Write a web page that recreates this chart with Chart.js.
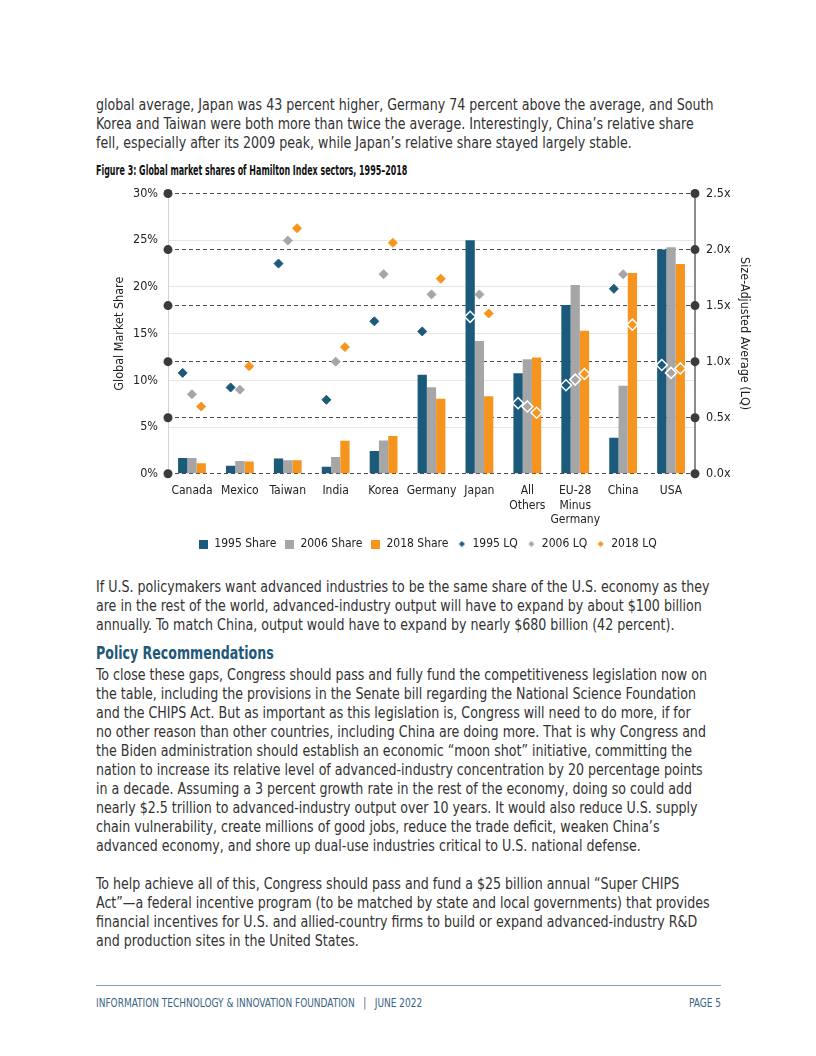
<!DOCTYPE html>
<html>
<head>
<meta charset="utf-8">
<script src="https://cdn.jsdelivr.net/npm/chart.js@4.4.0/dist/chart.umd.min.js"></script>
<style>
  body { margin: 0; background: #fff; }
  #page { position: relative; width: 816px; height: 1056px; overflow: hidden;
          font-family: 'Liberation Sans Narrow', 'DejaVu Sans Condensed', 'Liberation Sans', sans-serif; color: #333; }
  .p { position: absolute; left: 96px; font-size: 15.5px; line-height: 19px; white-space: nowrap;
       transform: scaleX(0.906); transform-origin: 0 0; }
  .figtitle { position: absolute; left: 96px; top: 162px; font-size: 14px; font-weight: bold; color: #111; white-space: nowrap;
              transform: scaleX(0.632); transform-origin: 0 0; }
  .heading { position: absolute; left: 96px; top: 643px; font-size: 17.5px; font-weight: bold; color: #22587a; white-space: nowrap;
             transform: scaleX(0.8); transform-origin: 0 0; }
  .rule { position: absolute; left: 96px; top: 985px; width: 625px; height: 1px; background: #8aa2b3; }
  .footer { position: absolute; top: 995px; font-size: 12.5px; color: #3a6483; white-space: nowrap; }
  .footer.left { left: 96px; transform: scaleX(0.8); transform-origin: 0 0; }
  .footer.right { right: 95px; transform: scaleX(0.8); transform-origin: 100% 0; }
  #chartBox { position: absolute; left: 96px; top: 175px; }
</style>
</head>
<body>
<div id="page">
  <div class="p" style="top:96px">global average, Japan was 43 percent higher, Germany 74 percent above the average, and South<br>Korea and Taiwan were both more than twice the average. Interestingly, China’s relative share<br>fell, especially after its 2009 peak, while Japan’s relative share stayed largely stable.</div>
  <div class="figtitle">Figure 3: Global market shares of Hamilton Index sectors, 1995–2018</div>
  <div id="chartBox"><canvas id="chart" width="664" height="385"></canvas></div>
  <div class="p" style="top:578px">If U.S. policymakers want advanced industries to be the same share of the U.S. economy as they<br>are in the rest of the world, advanced-industry output will have to expand by about $100 billion<br>annually. To match China, output would have to expand by nearly $680 billion (42 percent).</div>
  <div class="heading">Policy Recommendations</div>
  <div class="p" style="top:666px">To close these gaps, Congress should pass and fully fund the competitiveness legislation now on<br>the table, including the provisions in the Senate bill regarding the National Science Foundation<br>and the CHIPS Act. But as important as this legislation is, Congress will need to do more, if for<br>no other reason than other countries, including China are doing more. That is why Congress and<br>the Biden administration should establish an economic “moon shot” initiative, committing the<br>nation to increase its relative level of advanced-industry concentration by 20 percentage points<br>in a decade. Assuming a 3 percent growth rate in the rest of the economy, doing so could add<br>nearly $2.5 trillion to advanced-industry output over 10 years. It would also reduce U.S. supply<br>chain vulnerability, create millions of good jobs, reduce the trade deficit, weaken China’s<br>advanced economy, and shore up dual-use industries critical to U.S. national defense.</div>
  <div class="p" style="top:875px">To help achieve all of this, Congress should pass and fund a $25 billion annual “Super CHIPS<br>Act”—a federal incentive program (to be matched by state and local governments) that provides<br>financial incentives for U.S. and allied-country firms to build or expand advanced-industry R&amp;D<br>and production sites in the United States.</div>
  <div class="rule"></div>
  <div class="footer left">INFORMATION TECHNOLOGY &amp; INNOVATION FOUNDATION &nbsp;&nbsp;|&nbsp;&nbsp; JUNE 2022</div>
  <div class="footer right">PAGE 5</div>
</div>

<script>
// categories and values
const categories = ['Canada', 'Mexico', 'Taiwan', 'India', 'Korea', 'Germany', 'Japan',
                    ['All', 'Others'], ['EU-28', 'Minus', 'Germany'], 'China', 'USA'];
const share1995 = [1.70, 0.86, 1.64, 0.75, 2.43, 10.6, 25.0, 10.75, 18.07, 3.86, 24.0];
const share2006 = [1.70, 1.36, 1.46, 1.79, 3.57, 9.25, 14.2, 12.25, 20.2, 9.43, 24.25];
const share2018 = [1.14, 1.32, 1.46, 3.54, 4.04, 8.03, 8.3, 12.46, 15.3, 21.5, 22.46];
const lq1995 = [0.90, 0.77, 1.875, 0.66, 1.36, 1.27, 1.40, 0.63, 0.79, 1.65, 0.97];
const lq2006 = [0.71, 0.75, 2.08, 1.00, 1.78, 1.60, 1.60, 0.60, 0.84, 1.78, 0.90];
const lq2018 = [0.60, 0.96, 2.19, 1.13, 2.06, 1.74, 1.43, 0.545, 0.89, 1.33, 0.94];
const shareTicks = [0, 5, 10, 15, 20, 25, 30];
const lqTicks = [0, 0.5, 1.0, 1.5, 2.0, 2.5];
const years = ['1995', '2006', '2018'];

const colors = ['#1c5a7b', '#a6a6a6', '#f7941d'];
const shareSets = [share1995, share2006, share2018];
const lqSets = [lq1995, lq2006, lq2018];
const fontStack = "'Liberation Sans Narrow', 'DejaVu Sans Condensed', 'Liberation Sans', sans-serif";

Chart.defaults.font.family = fontStack;
Chart.defaults.color = '#222';

// LQ marker drawn hollow when it falls inside its own bar
const scaleRatio = shareTicks[shareTicks.length - 1] / lqTicks[lqTicks.length - 1];
function insideBar(ctx) {
    const k = ctx.datasetIndex - 3;
    return lqSets[k][ctx.dataIndex] * scaleRatio < shareSets[k][ctx.dataIndex];
}

// small legend icons
function legendIcon(color, diamond) {
    const c = document.createElement('canvas');
    const s = diamond ? 7 : 9;
    c.width = s; c.height = s;
    const g = c.getContext('2d');
    g.fillStyle = color;
    if (diamond) {
        g.beginPath();
        g.moveTo(s / 2, 0.5); g.lineTo(s - 0.5, s / 2); g.lineTo(s / 2, s - 0.5); g.lineTo(0.5, s / 2);
        g.closePath(); g.fill();
    } else {
        g.fillRect(0, 0, s, s);
    }
    return c;
}

// put each LQ marker above its matching bar
const alignMarkers = {
    id: 'alignMarkers',
    afterDatasetsUpdate(chart) {
        lqSets.forEach((_, k) => {
            const bars = chart.getDatasetMeta(k).data;
            chart.getDatasetMeta(k + 3).data.forEach((pt, i) => { pt.x = bars[i].x; });
        });
    }
};

// round dots on both axis lines at the LQ ticks
const axisDots = {
    id: 'axisDots',
    afterDraw(chart) {
        const { ctx, chartArea } = chart;
        const s = chart.scales.y1;
        ctx.save();
        ctx.fillStyle = '#3b3b3b';
        s.ticks.forEach(t => {
            const y = s.getPixelForValue(t.value);
            [chartArea.left, chartArea.right].forEach(x => {
                ctx.beginPath();
                ctx.arc(x, y, 4.5, 0, Math.PI * 2);
                ctx.fill();
            });
        });
        ctx.restore();
    }
};

const datasets = [];
years.forEach((y, k) => {
    datasets.push({
        type: 'bar', label: y + ' Share', data: shareSets[k], yAxisID: 'y',
        backgroundColor: colors[k], order: 2,
        barPercentage: 1.0, categoryPercentage: 0.58
    });
});
years.forEach((y, k) => {
    datasets.push({
        type: 'line', label: y + ' LQ', data: lqSets[k], yAxisID: 'y1',
        showLine: false, order: 1, pointStyle: 'rectRot',
        pointRadius: ctx => insideBar(ctx) ? 5.5 : 4.5,
        pointBackgroundColor: ctx => insideBar(ctx) ? 'rgba(0,0,0,0)' : colors[k],
        pointBorderColor: ctx => insideBar(ctx) ? '#ffffff' : colors[k],
        pointBorderWidth: ctx => insideBar(ctx) ? 1.5 : 1
    });
});

new Chart(document.getElementById('chart').getContext('2d'), {
    data: { labels: categories, datasets: datasets },
    plugins: [alignMarkers, axisDots],
    options: {
        responsive: false,
        animation: false,
        layout: { padding: { top: 4, bottom: 0 } },
        plugins: {
            tooltip: { enabled: false },
            legend: {
                position: 'bottom',
                labels: {
                    usePointStyle: true, boxWidth: 9, padding: 9,
                    font: { size: 12 }, color: '#222',
                    generateLabels: chart => chart.data.datasets.map((ds, i) => ({
                        text: ds.label, datasetIndex: i, hidden: false,
                        fontColor: '#222', lineWidth: 0,
                        fillStyle: colors[i % 3], strokeStyle: colors[i % 3],
                        pointStyle: legendIcon(colors[i % 3], ds.type === 'line')
                    }))
                }
            }
        },
        scales: {
            x: {
                grid: { display: false },
                border: { display: false },
                ticks: { autoSkip: false, maxRotation: 0, padding: 2, color: '#222',
                         font: { size: 12, lineHeight: 1.2 } }
            },
            y: {
                position: 'left', min: 0, max: 30,
                afterBuildTicks: s => { s.ticks = shareTicks.map(v => ({ value: v })); },
                afterFit: s => { s.width = 72; },
                ticks: { callback: v => v + '%', padding: 10, color: '#222', font: { size: 12.5 } },
                grid: { drawTicks: false,
                        color: c => (c.tick && (c.tick.value === 0 || c.tick.value === 30)) ? 'rgba(0,0,0,0)' : '#e6e6e6' },
                border: { color: '#d4d4d4', width: 1 },
                title: { display: true, text: 'Global Market Share', font: { size: 12.5 }, color: '#222',
                         padding: { top: 16, bottom: 0 } }
            },
            y1: {
                position: 'right', min: 0, max: 2.5,
                afterBuildTicks: s => { s.ticks = lqTicks.map(v => ({ value: v })); },
                afterFit: s => { s.width = 65; },
                ticks: { callback: v => v.toFixed(1) + 'x', padding: 11, color: '#222', font: { size: 12.5 } },
                grid: { drawTicks: false, color: '#4a4a4a', lineWidth: 1 },
                border: { color: '#8c8c8c', width: 2, dash: [4, 3] },
                title: { display: true, text: 'Size-Adjusted Average (LQ)', font: { size: 12.5 }, color: '#222',
                         padding: { top: 8, bottom: 0 } }
            }
        }
    }
});
</script>
</body>
</html>
